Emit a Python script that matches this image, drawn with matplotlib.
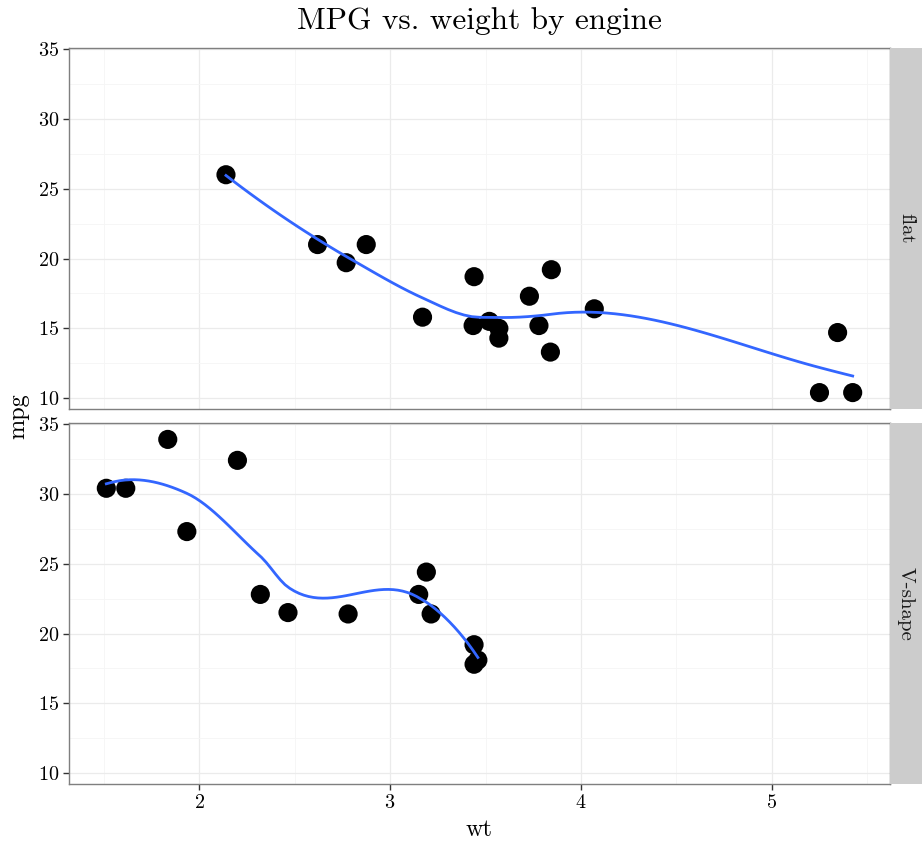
import numpy as np
import matplotlib
matplotlib.use("Agg")
import matplotlib.pyplot as plt

plt.rcParams['font.family'] = ['cmr10', 'DejaVu Serif']
plt.rcParams['axes.formatter.use_mathtext'] = True
plt.rcParams['mathtext.fontset'] = 'cm'

# mtcars: weight (1000 lbs) and mpg, split by engine shape
flat_wt = [2.620, 2.875, 3.440, 3.570, 4.070, 3.730, 3.780, 5.250, 5.424, 5.345,
           3.520, 3.435, 3.840, 3.845, 2.140, 3.170, 2.770, 3.570]
flat_mpg = [21.0, 21.0, 18.7, 14.3, 16.4, 17.3, 15.2, 10.4, 10.4, 14.7,
            15.5, 15.2, 13.3, 19.2, 26.0, 15.8, 19.7, 15.0]
vshape_wt = [2.320, 3.215, 3.460, 3.190, 3.150, 3.440, 3.440, 2.200, 1.615,
             1.835, 2.465, 1.935, 1.513, 2.780]
vshape_mpg = [22.8, 21.4, 18.1, 24.4, 22.8, 19.2, 17.8, 32.4, 30.4,
              33.9, 21.5, 27.3, 30.4, 21.4]
panel_labels = ["flat", "V-shape"]
x_ticks = [2, 3, 4, 5]
y_ticks = [10, 15, 20, 25, 30, 35]


def local_fit(x, y, x0, q):
    n = len(x)
    d = np.abs(x - x0)
    h = np.sort(d)[q - 1]
    u = np.clip(d / h, 0, 1)
    w = (1 - u ** 3) ** 3
    X = np.column_stack([np.ones(n), x - x0, (x - x0) ** 2])
    sw = np.sqrt(w)
    beta = np.linalg.lstsq(X * sw[:, None], y * sw, rcond=None)[0]
    return beta[0], beta[1]


def loess_interp(x, y, xs, span=0.75, cell=0.2):
    """loess (degree 2) evaluated on kd-tree vertices + cubic Hermite
    interpolation, as R's loess(surface='interpolate')."""
    x = np.asarray(x, float); y = np.asarray(y, float)
    n = len(x)
    q = int(np.floor(n * span))
    fc = int(np.floor(n * span * cell))
    sx = np.sort(x)
    lo, hi = sx[0], sx[-1]
    mu = 0.005 * (hi - lo)
    verts = {lo - mu, hi + mu}

    def split(l, u, vlo, vhi):
        if u - l + 1 <= fc:
            return
        m = (l + u) // 2
        offset = 0
        while True:
            if m + offset >= u or m + offset < l:
                break
            if sx[m + offset] == sx[m + offset + 1]:
                offset = -offset
                if offset >= 0:
                    offset += 1
                continue
            m = m + offset
            break
        v = sx[m]
        if v == vlo or v == vhi:
            return
        verts.add(v)
        split(l, m, vlo, v)
        split(m + 1, u, v, vhi)

    split(0, n - 1, lo - mu, hi + mu)
    vs = np.array(sorted(verts))
    fv = np.array([local_fit(x, y, v, q) for v in vs])
    out = []
    for t in xs:
        i = np.searchsorted(vs, t) - 1
        i = min(max(i, 0), len(vs) - 2)
        a, b = vs[i], vs[i + 1]
        hh = b - a
        s = (t - a) / hh
        h00 = 2 * s ** 3 - 3 * s ** 2 + 1
        h10 = s ** 3 - 2 * s ** 2 + s
        h01 = -2 * s ** 3 + 3 * s ** 2
        h11 = s ** 3 - s ** 2
        out.append(h00 * fv[i, 0] + h10 * hh * fv[i, 1] +
                   h01 * fv[i + 1, 0] + h11 * hh * fv[i + 1, 1])
    return np.array(out)


W, H = 922, 844
fig = plt.figure(figsize=(W / 100, H / 100), dpi=100)

all_wt = flat_wt + vshape_wt
all_mpg = flat_mpg + vshape_mpg
xr = max(all_wt) - min(all_wt)
yr = max(all_mpg) - min(all_mpg)
xlim = (min(all_wt) - 0.05 * xr, max(all_wt) + 0.05 * xr)
ylim = (min(all_mpg) - 0.05 * yr, max(all_mpg) + 0.05 * yr)

left, right = 69 / W, 890 / W
pw = right - left
ph = 361 / H
bottoms = [(H - 409) / H, (H - 784) / H]
datasets = [(flat_wt, flat_mpg), (vshape_wt, vshape_mpg)]
border = '#7f7f7f'
axes = []
for i, ((xd, yd), lab) in enumerate(zip(datasets, panel_labels)):
    ax = fig.add_axes([left, bottoms[i], pw, ph])
    axes.append(ax)
    ax.set_xlim(xlim); ax.set_ylim(ylim)
    ax.set_xticks(x_ticks)
    ax.set_yticks(y_ticks)
    ax.set_xticks([1.5, 2.5, 3.5, 4.5, 5.5], minor=True)
    ax.set_yticks([12.5, 17.5, 22.5, 27.5, 32.5], minor=True)
    ax.grid(True, which='major', color='#ebebeb', lw=0.9)
    ax.grid(True, which='minor', color='#f5f5f5', lw=0.6)
    ax.set_axisbelow(True)
    for s in ax.spines.values():
        s.set_color(border); s.set_linewidth(1.0)
    ax.tick_params(which='major', direction='out', length=4, width=1.0,
                   color='#333333', labelsize=14.5, labelcolor='black', pad=3)
    ax.tick_params(which='minor', length=0)
    ax.scatter(xd, yd, s=190, color='black', edgecolors='none', zorder=2)
    xs = np.linspace(min(xd), max(xd), 80)
    ax.plot(xs, loess_interp(xd, yd, xs), color='#3366FF', lw=2.0, zorder=3)
    if i == 0:
        ax.tick_params(axis='x', labelbottom=False, length=0)
    # strip
    sx = fig.add_axes([right, bottoms[i], 32 / W, ph])
    sx.set_facecolor('#cccccc')
    sx.set_xticks([]); sx.set_yticks([])
    for s in sx.spines.values():
        s.set_visible(False)
    sx.text(0.5, 0.5, lab, rotation=-90, ha='center', va='center',
            fontsize=15, color='#1a1a1a', transform=sx.transAxes)

fig.text((left + right) / 2, 1 - 830 / H, 'wt', ha='center', va='center', fontsize=17.5)
fig.text(18 / W, 1 - 416 / H, 'mpg', rotation=90, ha='center', va='center', fontsize=17.5)
fig.text((left + right) / 2, 1 - 21 / H, 'MPG vs. weight by engine',
         ha='center', va='center', fontsize=22.5)

fig.savefig('out.png', dpi=100)
